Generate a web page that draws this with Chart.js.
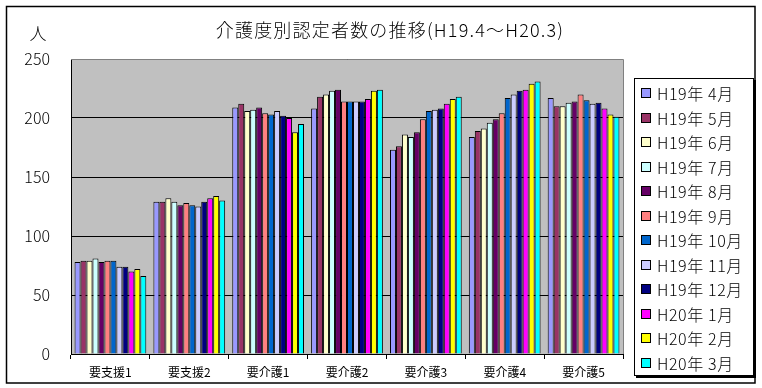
<!DOCTYPE html>
<html>
<head>
<meta charset="utf-8">
<script src="https://cdn.jsdelivr.net/npm/chart.js@4.4.1/dist/chart.umd.min.js"></script>
<style>
  html, body { margin: 0; padding: 0; background: #fff; }
  #wrap { width: 762px; height: 388px; position: relative; }
</style>
</head>
<body>
<div id="wrap"><canvas id="kaigoChart" width="762" height="388"></canvas></div>
<script>
// 介護度（カテゴリ）
const categories = ['要支援1', '要支援2', '要介護1', '要介護2', '要介護3', '要介護4', '要介護5'];

// 月ごとの系列名と色
const months = ['H19年 4月', 'H19年 5月', 'H19年 6月', 'H19年 7月', 'H19年 8月', 'H19年 9月',
                'H19年 10月', 'H19年 11月', 'H19年 12月', 'H20年 1月', 'H20年 2月', 'H20年 3月'];
const colors = ['#9999FF', '#993366', '#FFFFCC', '#CCFFFF', '#660066', '#FF8080',
                '#0066CC', '#CCCCFF', '#000080', '#FF00FF', '#FFFF00', '#00FFFF'];

// 各介護度ごとの認定者数（4月〜3月）
const yoshien1 = [78, 79, 79, 81, 78, 79, 79, 74, 74, 70, 72, 66];
const yoshien2 = [129, 129, 132, 129, 126, 128, 126, 125, 129, 132, 134, 130];
const yokaigo1 = [209, 212, 206, 207, 209, 204, 203, 206, 202, 200, 188, 195];
const yokaigo2 = [208, 218, 220, 223, 224, 214, 214, 214, 214, 216, 223, 224];
const yokaigo3 = [173, 176, 186, 184, 188, 199, 206, 207, 208, 212, 216, 218];
const yokaigo4 = [184, 189, 191, 196, 199, 204, 217, 220, 223, 224, 229, 231];
const yokaigo5 = [217, 210, 210, 213, 214, 220, 215, 212, 213, 208, 203, 201];

const yTicks = [0, 50, 100, 150, 200, 250];

const byCategory = [yoshien1, yoshien2, yokaigo1, yokaigo2, yokaigo3, yokaigo4, yokaigo5];
const datasets = months.map((m, i) => ({
    label: m,
    data: byCategory.map(row => row[i]),
    backgroundColor: colors[i],
    borderColor: '#000',
    borderWidth: 1,
    borderSkipped: 'bottom',
    categoryPercentage: 0.91,
    barPercentage: 1.0
}));

const FONT = '"Noto Sans CJK JP", "Noto Sans", sans-serif';

// 背景・枠・タイトル・凡例を描くプラグイン
const decorPlugin = {
    id: 'decor',
    beforeDraw(chart) {
        const ctx = chart.ctx;
        const a = chart.chartArea;
        ctx.save();
        ctx.fillStyle = '#fff';
        ctx.fillRect(0, 0, chart.width, chart.height);
        ctx.fillStyle = '#C0C0C0';
        ctx.fillRect(a.left, a.top, a.right - a.left, a.bottom - a.top);
        ctx.restore();
    },
    afterDraw(chart) {
        const ctx = chart.ctx;
        const a = chart.chartArea;
        ctx.save();
        // プロットエリアの枠（上・右は灰色）
        ctx.strokeStyle = '#808080';
        ctx.lineWidth = 1;
        ctx.beginPath();
        ctx.moveTo(a.left, a.top + 0.5);
        ctx.lineTo(a.right + 0.5, a.top + 0.5);
        ctx.lineTo(a.right + 0.5, a.bottom);
        ctx.stroke();

        // 外枠
        ctx.strokeStyle = '#000';
        ctx.lineWidth = 1.5;
        ctx.strokeRect(6.5, 6.5, 748.5, 376.5);

        // タイトル
        ctx.fillStyle = '#000';
        ctx.font = '300 18px ' + FONT;
        ctx.letterSpacing = '1.2px';
        ctx.textAlign = 'center';
        ctx.textBaseline = 'middle';
        ctx.fillText('介護度別認定者数の推移(H19.4～H20.3)', 390, 30);

        // 単位
        ctx.letterSpacing = '0px';
        ctx.font = '300 17px ' + FONT;
        ctx.fillText('人', 38, 34);

        // 凡例
        const lx = 634, ly = 78, lw = 120, lh = 298;
        ctx.fillStyle = '#000';
        ctx.fillRect(lx + 2, ly + 2, lw, lh);
        ctx.fillStyle = '#fff';
        ctx.fillRect(lx, ly, lw, lh);
        ctx.lineWidth = 1;
        ctx.strokeStyle = '#000';
        ctx.strokeRect(lx + 0.5, ly + 0.5, lw - 1, lh - 1);

        ctx.font = '300 16px ' + FONT;
        ctx.letterSpacing = '0.6px';
        ctx.textAlign = 'left';
        chart.data.datasets.forEach((ds, i) => {
            const cy = 93 + i * 24.5;
            ctx.fillStyle = ds.backgroundColor;
            ctx.fillRect(641, Math.round(cy) - 5, 10, 10);
            ctx.strokeStyle = '#000';
            ctx.strokeRect(641.5, Math.round(cy) - 4.5, 9, 9);
            ctx.fillStyle = '#000';
            ctx.fillText(ds.label, 657, cy + 1);
        });
        ctx.restore();
    }
};

new Chart(document.getElementById('kaigoChart'), {
    type: 'bar',
    data: { labels: categories, datasets: datasets },
    options: {
        responsive: false,
        animation: false,
        layout: { padding: { top: 59, right: 139, bottom: 0, left: 0 } },
        plugins: {
            legend: { display: false },
            title: { display: false },
            tooltip: { enabled: false }
        },
        scales: {
            x: {
                grid: {
                    offset: true,
                    drawOnChartArea: false,
                    color: '#000',
                    tickLength: 5
                },
                border: { color: '#000', width: 1 },
                ticks: {
                    color: '#000',
                    font: { family: FONT, size: 12 },
                    padding: 6,
                    maxRotation: 0
                },
                afterFit(scale) { scale.height = 34; }
            },
            y: {
                min: 0,
                max: 250,
                afterBuildTicks(scale) { scale.ticks = yTicks.map(v => ({ value: v })); },
                grid: { color: '#000', drawTicks: false, lineWidth: 1 },
                border: { color: '#000', width: 1 },
                ticks: {
                    color: '#000',
                    font: { family: FONT, size: 16, weight: '300' },
                    padding: 21
                },
                afterFit(scale) { scale.width = 71; }
            }
        }
    },
    plugins: [decorPlugin]
});
</script>
</body>
</html>
